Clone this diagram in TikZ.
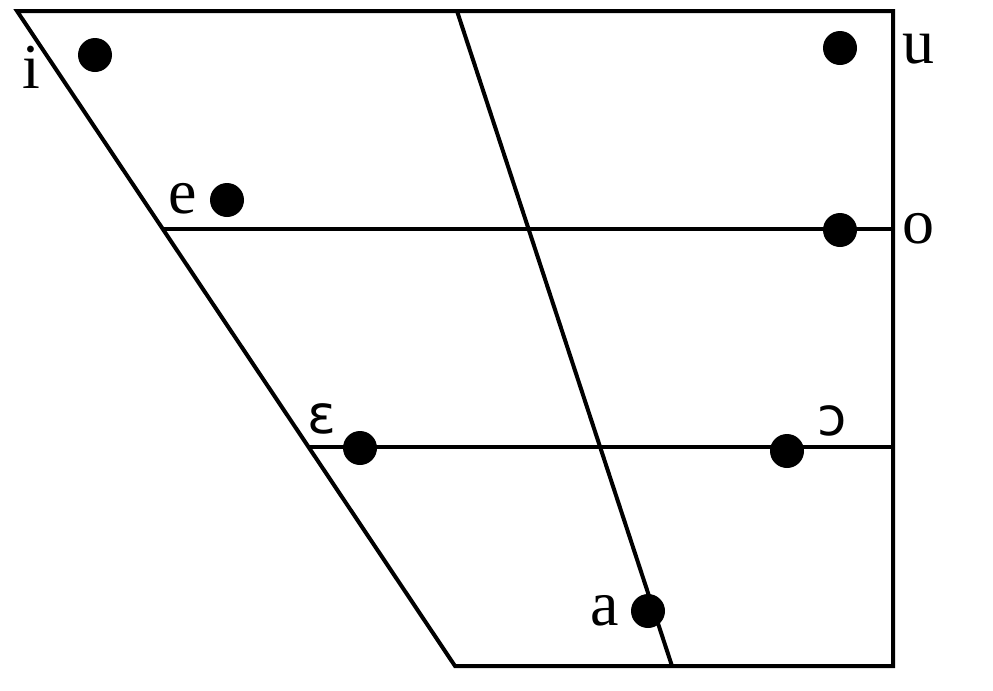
\documentclass[tikz,border=0pt]{standalone}
\usepackage{fontspec}
\setmainfont{Liberation Serif}
\newfontfamily\ipasans{DejaVu Sans}
\begin{document}
\begin{tikzpicture}[x=0.75pt,y=-0.75pt,
  edge/.style={line width=3pt,line join=miter},
  vdot/.style={circle,fill=black,inner sep=0pt,minimum size=25.5pt},
  lab/.style={anchor=base,inner sep=0pt,font=\fontsize{48}{48}\selectfont},
  labs/.style={anchor=base,inner sep=0pt,font=\ipasans\fontsize{40}{40}\selectfont}]
\useasboundingbox (0,0) rectangle (993,690);
\coordinate (TL) at (17,11);
\coordinate (TR) at (893,11);
\coordinate (BR) at (893,666);
\coordinate (BL) at (455,666);
\coordinate (MT) at (457,11);
\coordinate (MB) at (672,666);
\coordinate (L1) at (163,229);
\coordinate (R1) at (893,229);
\coordinate (L2) at (309,447);
\coordinate (R2) at (893,447);
\draw[edge] (TL) -- (TR) -- (BR) -- (BL) -- cycle;
\draw[edge] (MT) -- (MB);
\draw[edge] (L1) -- (R1);
\draw[edge] (L2) -- (R2);
\node[vdot] (di) at (95,55) {};
\node[vdot] (du) at (840,48) {};
\node[vdot] (de) at (227,200) {};
\node[vdot] (do) at (840,230) {};
\node[vdot] (dE) at (360,448) {};
\node[vdot] (dO) at (787,451) {};
\node[vdot] (da) at (648,611) {};
\node[lab] (ti) at (31,88) {i};
\node[lab] (tu) at (918,63) {u};
\node[lab] (te) at (183,213) {e};
\node[lab] (to) at (918,243) {o};
\node[labs] (tE) at (322,433) {ɛ};
\node[labs] (tO) at (832,435) {ɔ};
\node[lab] (ta) at (605,625) {a};
\end{tikzpicture}
\end{document}
